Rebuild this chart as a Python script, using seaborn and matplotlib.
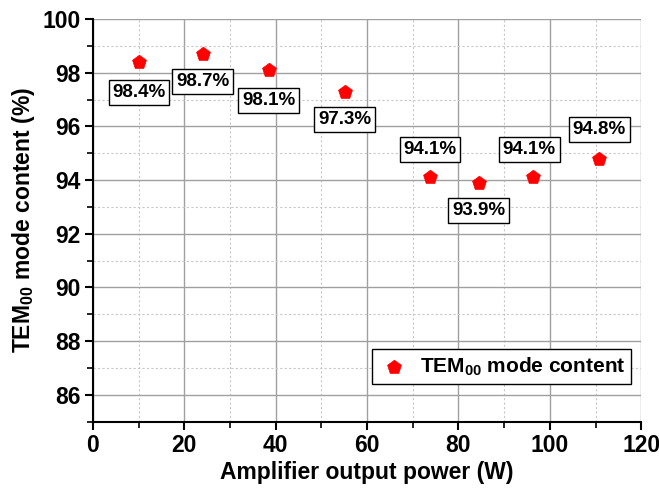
import matplotlib
matplotlib.use("Agg")
import matplotlib.pyplot as plt
from matplotlib.ticker import MultipleLocator
import pandas as pd
import seaborn as sns

# Measured TEM00 mode content versus amplifier output power
power_w = [10.1, 24.0, 38.5, 55.1, 73.8, 84.4, 96.4, 110.8]
tem00_pct = [98.4, 98.7, 98.1, 97.3, 94.1, 93.9, 94.1, 94.8]
# Where each value label sits relative to its point (offset in points)
label_dx = [0, 0, 0, 0, 0, 0, -3, 0]
label_dy = [-22, -20, -22, -20, 20, -20, 20, 21]

df = pd.DataFrame({"power": power_w, "tem00": tem00_pct})

sns.set_theme(style="white")
plt.rcParams["font.family"] = ["Liberation Sans", "DejaVu Sans"]
plt.rcParams["font.weight"] = "bold"
plt.rcParams["text.color"] = "black"
plt.rcParams["axes.labelcolor"] = "black"
plt.rcParams["xtick.color"] = "black"
plt.rcParams["ytick.color"] = "black"
plt.rcParams["mathtext.fontset"] = "custom"
plt.rcParams["mathtext.rm"] = "Liberation Sans:bold"
plt.rcParams["mathtext.it"] = "Liberation Sans:bold"
plt.rcParams["mathtext.bf"] = "Liberation Sans:bold"

fig = plt.figure(figsize=(6.59, 4.88), dpi=100)
ax = fig.add_axes([0.141, 0.136, 0.832, 0.825])

sns.scatterplot(data=df, x="power", y="tem00", ax=ax, marker="p", s=110,
                color="#ff0000", edgecolor="#ff0000", linewidth=0.5,
                label=r"TEM$_{00}$ mode content", zorder=5)

for x, y, dx, dy in zip(power_w, tem00_pct, label_dx, label_dy):
    ax.annotate(f"{y:.1f}%", (x, y), xytext=(dx, dy), textcoords="offset points",
                ha="center", va="center", fontsize=13.5, fontweight="bold",
                color="black",
                bbox=dict(boxstyle="square,pad=0.2", facecolor="white",
                          edgecolor="black", linewidth=1.0), zorder=6)

ax.set_xlim(0, 120)
ax.set_ylim(85, 100)
ax.xaxis.set_major_locator(MultipleLocator(20))
ax.xaxis.set_minor_locator(MultipleLocator(10))
ax.yaxis.set_major_locator(MultipleLocator(2))
ax.yaxis.set_minor_locator(MultipleLocator(1))

ax.grid(which="major", color="#a0a0a0", linewidth=1.0, linestyle="-")
ax.grid(which="minor", color="#c8c8c8", linewidth=0.8, linestyle=(0, (2, 2)))
ax.set_axisbelow(True)

for side in ("top", "right"):
    ax.spines[side].set_visible(False)
for side in ("left", "bottom"):
    ax.spines[side].set_color("black")
    ax.spines[side].set_linewidth(1.5)

ax.tick_params(which="major", direction="out", length=6, width=1.5,
               colors="black", labelsize=16.5, left=True, bottom=True, pad=3)
ax.tick_params(which="minor", direction="out", length=4, width=1.2,
               colors="black", left=True, bottom=True)
for lbl in ax.get_xticklabels() + ax.get_yticklabels():
    lbl.set_fontweight("bold")

ax.set_xlabel("Amplifier output power (W)", fontsize=16.5, fontweight="bold", labelpad=3)
ax.set_ylabel(r"TEM$_{00}$ mode content (%)", fontsize=16.5, fontweight="bold", labelpad=4)

leg = ax.legend(loc="lower right", bbox_to_anchor=(0.982, 0.094), borderaxespad=0,
                fontsize=15, frameon=True, fancybox=False, edgecolor="black",
                framealpha=1, handlelength=1.5, handletextpad=0.5, borderpad=0.3,
                markerscale=1.0)
leg.get_frame().set_linewidth(1.0)
for t in leg.get_texts():
    t.set_fontweight("bold")
    t.set_color("black")

fig.savefig("out.png", dpi=100)
